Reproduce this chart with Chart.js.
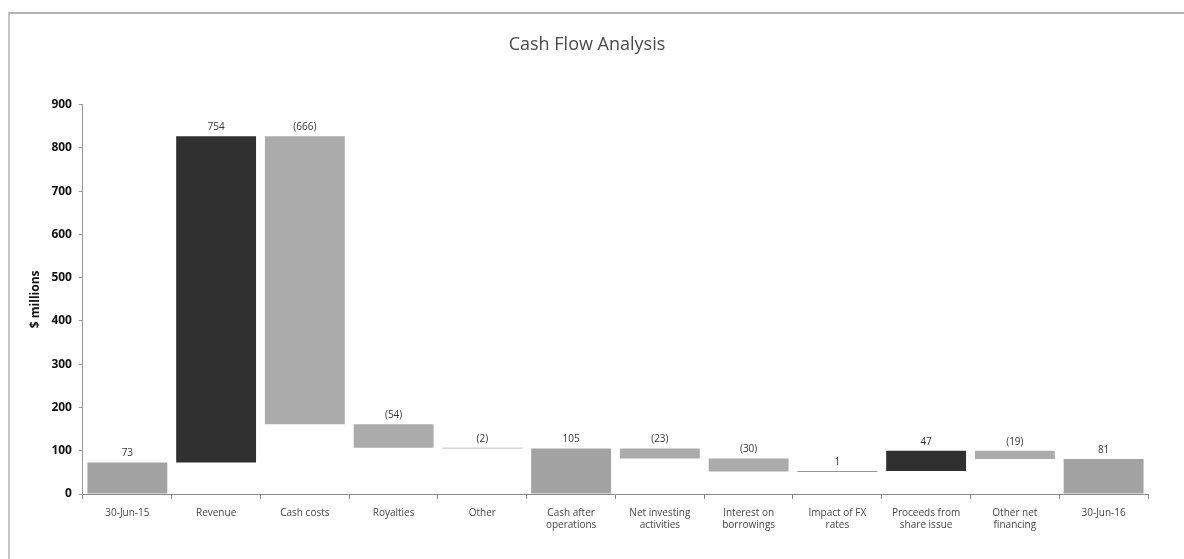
<!DOCTYPE html>
<html>
<head>
<meta charset="utf-8">
<script src="https://cdn.jsdelivr.net/npm/chart.js@4"></script>
<style>
    body { margin: 0; background: #fff; }
    #wrap { position: relative; width: 1184px; height: 559px; }
    #frame { position: absolute; left: 8px; top: 12px; right: 0; bottom: 0;
             border-top: 2px solid #b4b4b4; border-left: 2px solid #c4c4c4; }
    canvas { position: absolute; left: 0; top: 0; }
</style>
</head>
<body>
<div id="wrap">
    <div id="frame"></div>
    <canvas id="cashChart" width="1184" height="559"></canvas>
</div>
<script>
// Données (en millions $)
const categories = [
    "30-Jun-15", ["Revenue"], ["Cash costs"], ["Royalties"], ["Other"],
    ["Cash after", "operations"], ["Net investing", "activities"], ["Interest on", "borrowings"],
    ["Impact of FX", "rates"], ["Proceeds from", "share issue"], ["Other net", "financing"], "30-Jun-16"
];
const changes = [73, 754, -666, -54, -2, 105, -23, -30, 1, 47, -19, 81];
const isTotal = [true, false, false, false, false, true, false, false, false, false, false, true];
const yTicks = [0, 100, 200, 300, 400, 500, 600, 700, 800, 900];

// Construire les barres flottantes
const floating = [];
let running = 0;
changes.forEach((v, i) => {
    if (isTotal[i]) {
        running = v;
        floating.push([0, v]);
    } else {
        const start = running;
        running = running + v;
        floating.push([Math.min(start, running), Math.max(start, running)]);
    }
});

const colors = changes.map((v, i) => {
    if (isTotal[i]) return "#a2a2a2";
    return v > 0 ? "#303030" : "#ababab";
});

function fmt(v) {
    return v < 0 ? "(" + Math.abs(v) + ")" : String(v);
}

// Étiquettes au-dessus des barres
const valueLabels = {
    id: "valueLabels",
    afterDatasetsDraw(chart) {
        const ctx = chart.ctx;
        const meta = chart.getDatasetMeta(0);
        const y = chart.scales.y;
        ctx.save();
        ctx.font = "10px 'Open Sans', sans-serif";
        ctx.fillStyle = "#333";
        ctx.textAlign = "center";
        ctx.textBaseline = "bottom";
        meta.data.forEach((bar, i) => {
            const top = y.getPixelForValue(floating[i][1]);
            ctx.fillText(fmt(changes[i]), bar.x, top - 4);
        });
        ctx.restore();
    }
};

new Chart(document.getElementById("cashChart"), {
    type: "bar",
    data: {
        labels: categories,
        datasets: [{
            data: floating,
            backgroundColor: colors,
            borderWidth: 0,
            barPercentage: 0.9,
            categoryPercentage: 1.0
        }]
    },
    options: {
        responsive: false,
        animation: false,
        layout: { padding: { left: 26, right: 36, top: 0, bottom: 20 } },
        plugins: {
            legend: { display: false },
            tooltip: { enabled: false },
            title: {
                display: true,
                text: "Cash Flow Analysis",
                color: "#4a4a4a",
                font: { family: "'Open Sans', sans-serif", size: 18, weight: "normal" },
                padding: { top: 34, bottom: 49 }
            }
        },
        scales: {
            x: {
                grid: { drawOnChartArea: false, drawTicks: true, tickLength: 5, color: "#888", offset: true },
                border: { color: "#888", width: 1 },
                ticks: {
                    color: "#444",
                    font: { family: "'Open Sans', sans-serif", size: 10 },
                    maxRotation: 0,
                    autoSkip: false,
                    padding: 8
                }
            },
            y: {
                min: 0,
                max: 900,
                afterBuildTicks(scale) {
                    scale.ticks = yTicks.map(v => ({ value: v }));
                },
                grid: { drawOnChartArea: false, drawTicks: true, tickLength: 4, color: "#999" },
                border: { color: "#999", width: 1 },
                ticks: {
                    color: "#111",
                    font: { family: "'Open Sans', sans-serif", size: 12, weight: "bold" },
                    padding: 7
                },
                title: {
                    display: true,
                    text: "$ millions",
                    color: "#111",
                    font: { family: "'Open Sans', sans-serif", size: 12, weight: "bold" },
                    padding: 2
                }
            }
        }
    },
    plugins: [valueLabels]
});
</script>
</body>
</html>
